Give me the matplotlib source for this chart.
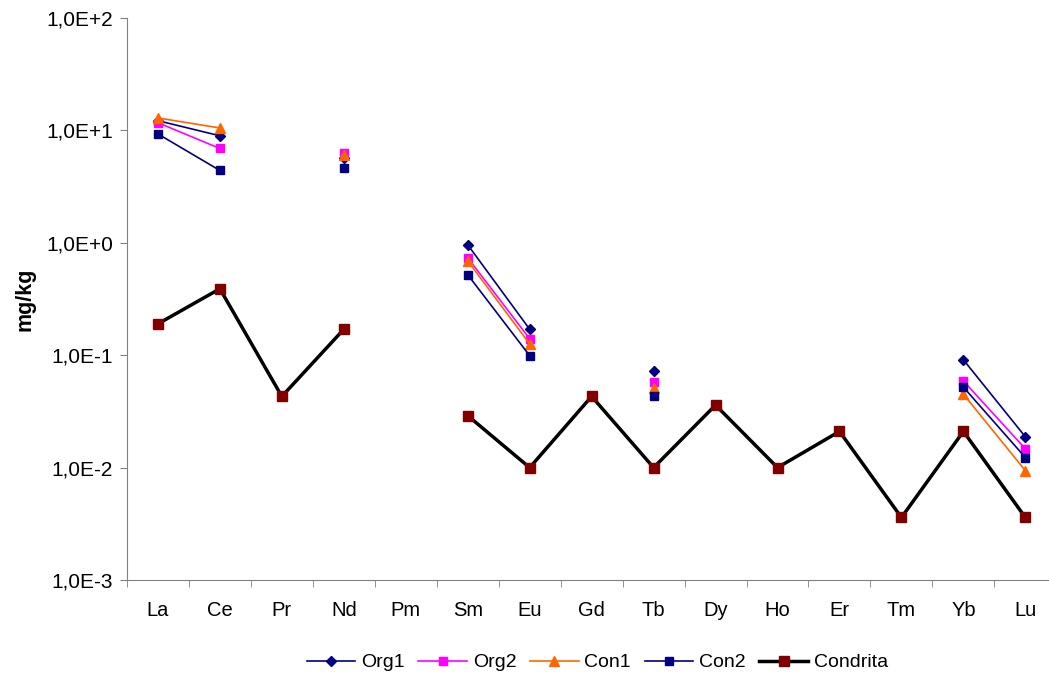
import numpy as np
import matplotlib
matplotlib.use('Agg')
import matplotlib.pyplot as plt
from matplotlib.ticker import FixedLocator, FuncFormatter, NullLocator

plt.rcParams['font.family'] = ['Liberation Sans', 'DejaVu Sans']

nan = np.nan

elements = ['La', 'Ce', 'Pr', 'Nd', 'Pm', 'Sm', 'Eu', 'Gd', 'Tb', 'Dy', 'Ho', 'Er', 'Tm', 'Yb', 'Lu']

org1 = [12.2, 8.95, nan, 5.7, nan, 0.96, 0.17, nan, 0.073, nan, nan, nan, nan, 0.091, 0.0188]
org2 = [11.7, 6.9, nan, 6.3, nan, 0.735, 0.14, nan, 0.058, nan, nan, nan, nan, 0.059, 0.0147]
con1 = [12.9, 10.5, nan, 6.05, nan, 0.69, 0.126, nan, 0.051, nan, nan, nan, nan, 0.045, 0.0094]
con2 = [9.3, 4.4, nan, 4.65, nan, 0.52, 0.099, nan, 0.0435, nan, nan, nan, nan, 0.052, 0.0123]
condrita = [0.19, 0.39, 0.043, 0.17, nan, 0.029, 0.01, 0.043, 0.01, 0.036, 0.01, 0.021, 0.0036, 0.021, 0.0036]

x = np.arange(len(elements))

fig = plt.figure(figsize=(10.49, 6.78), dpi=100)
ax = fig.add_axes([0.121, 0.1445, 0.886, 0.829])

ax.plot(x, org1, color='#000080', lw=1.2, marker='D', ms=5, label='Org1')
ax.plot(x, org2, color='#FF00FF', lw=1.2, marker='s', ms=6, label='Org2')
ax.plot(x, con1, color='#FF6600', lw=1.2, marker='^', ms=7, label='Con1')
ax.plot(x, con2, color='#000080', lw=1.2, marker='s', ms=6, label='Con2')
ax.plot(x, condrita, color='black', lw=2.5, marker='s', ms=7,
        markerfacecolor='#800000', markeredgecolor='#800000', label='Condrita')

ax.set_yscale('log')
ax.set_ylim(1e-3, 1e2)
ax.set_xlim(-0.5, len(elements) - 0.5)
ax.yaxis.set_major_formatter(FuncFormatter(lambda v, p: '1,0E%+d' % round(np.log10(v))))
ax.yaxis.set_minor_locator(NullLocator())

ax.xaxis.set_major_locator(FixedLocator(x))
ax.set_xticklabels(elements)
ax.xaxis.set_minor_locator(FixedLocator(np.arange(-0.5, len(elements), 1.0)))
ax.tick_params(axis='x', which='major', length=0, pad=15, labelsize=14.5)
ax.tick_params(axis='x', which='minor', length=5, color='#808080')
ax.tick_params(axis='y', length=5, color='#808080', labelsize=15, pad=5)

for s in ['top', 'right']:
    ax.spines[s].set_visible(False)
for s in ['left', 'bottom']:
    ax.spines[s].set_color('#808080')

ax.set_ylabel('mg/kg', fontsize=15.5, fontweight='bold', labelpad=8)

ax.legend(loc='upper center', bbox_to_anchor=(0.506, -0.1), ncol=5,
          frameon=False, fontsize=14, handlelength=2.5, handletextpad=0.3,
          columnspacing=0.7, markerscale=1.0)

fig.savefig('out.png', dpi=100)
